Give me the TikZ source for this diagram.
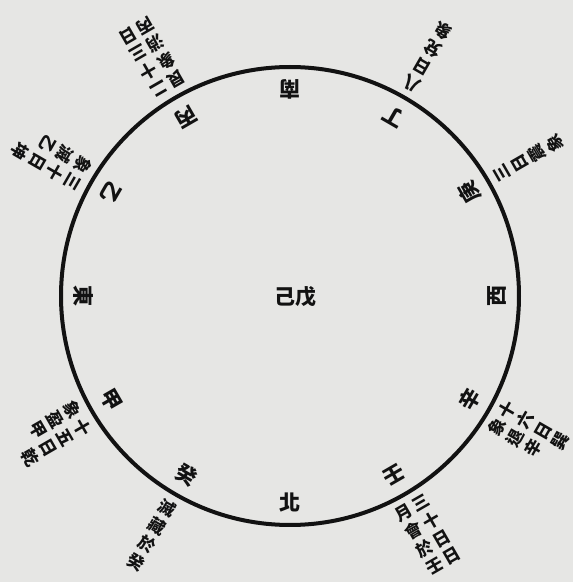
\documentclass[tikz,border=0pt]{standalone}
\usepackage{fontspec}
\newfontfamily\cjk{Noto Sans CJK TC}
\usetikzlibrary{positioning, calc}
\definecolor{paper}{RGB}{230,230,228}
\definecolor{ink}{RGB}{18,18,18}

\begin{document}
\begin{tikzpicture}[x=1pt, y=1pt,
    ring/.style={draw=ink, line width=4pt},
    gan/.style={font=\cjk\bfseries\fontsize{21}{21}\selectfont, text=ink, inner sep=0pt},
    note/.style={font=\cjk\bfseries\fontsize{17}{20}\selectfont, text=ink, inner sep=0pt, anchor=north}]
    \fill[paper] (0,0) rectangle (573,582);
    \useasboundingbox (0,0) rectangle (573,582);
    \coordinate (o) at (290,286);
    \draw[ring] (o) circle (229);
    % the twelve signs inside the ring
    \foreach \a/\c/\n in {0/西/xi, 30/庚/geng, 60/丁/ding, 90/南/nan, 120/丙/bing, 150/乙/yi,
                          180/東/dong, 210/甲/jia, 240/癸/gui, 270/北/bei, 300/壬/ren, 330/辛/xin} {
        \node[gan, rotate=\a+90] (\n) at ($(o)+(\a:207)$) {\c};
    }
    \node[gan] (mid) at (295,285) {己戊};
    % notes outside the ring
    \node[note, rotate=120] (lblGeng) at ($(o)+(30:237)$)
        {\begin{tabular}{@{}c@{}}三\\日\\震\\象\end{tabular}};
    \node[note, rotate=150] (lblDing) at ($(o)+(60:237)$)
        {\begin{tabular}{@{}c@{}}八\\日\\兌\\象\end{tabular}};
    \node[note, rotate=210] (lblBing) at ($(o)+(120:237)$)
        {\begin{tabular}{@{}c@{\hspace{3pt}}c@{}}艮&二\\象&十\\消&三\\丙&日\end{tabular}};
    \node[note, rotate=240] (lblYi) at ($(o)+(150:237)$)
        {\begin{tabular}{@{}c@{\hspace{3pt}}c@{}}象&三\\滅&十\\乙&日\\&坤\end{tabular}};
    \node[note, rotate=300] (lblJia) at ($(o)+(210:237)$)
        {\begin{tabular}{@{}c@{\hspace{3pt}}c@{}}象&十\\盈&五\\甲&日\\&乾\end{tabular}};
    \node[note, rotate=330] (lblGui) at ($(o)+(240:237)$)
        {\begin{tabular}{@{}c@{}}滅\\藏\\於\\癸\end{tabular}};
    \node[note, rotate=30] (lblRen) at ($(o)+(300:237)$)
        {\begin{tabular}{@{}c@{\hspace{3pt}}c@{}}月&三\\會&十\\於&日\\壬&日\end{tabular}};
    \node[note, rotate=60] (lblXin) at ($(o)+(330:237)$)
        {\begin{tabular}{@{}c@{\hspace{3pt}}c@{}}象&十\\退&六\\辛&日\\&巽\end{tabular}};
\end{tikzpicture}
\end{document}
